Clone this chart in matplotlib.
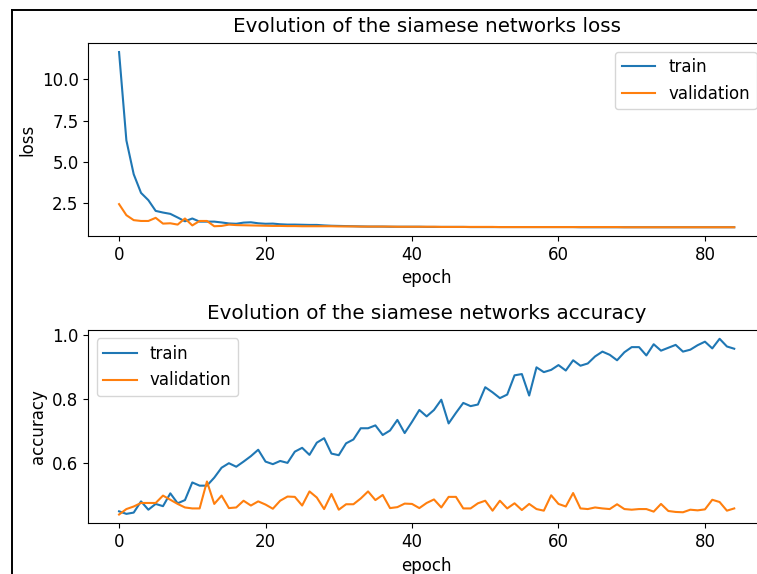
import matplotlib
matplotlib.use('Agg')
import matplotlib.pyplot as plt
from matplotlib.lines import Line2D

epochs = list(range(85))

loss_train = [11.65, 6.3, 4.25, 3.12, 2.68, 2.03, 1.93, 1.85, 1.63, 1.4,
              1.57, 1.38, 1.38, 1.38, 1.33, 1.27, 1.25, 1.32, 1.34, 1.28,
              1.25, 1.26, 1.22, 1.2, 1.2, 1.19, 1.18, 1.18, 1.15, 1.13,
              1.12, 1.11, 1.1, 1.09, 1.08, 1.08, 1.08, 1.07, 1.07, 1.07,
              1.07, 1.07, 1.06, 1.06, 1.06, 1.06, 1.06, 1.06, 1.05, 1.05,
              1.05, 1.05, 1.05, 1.05, 1.05, 1.05, 1.05, 1.05, 1.05, 1.05,
              1.05, 1.05, 1.05, 1.04, 1.04, 1.04, 1.04, 1.04, 1.04, 1.04,
              1.04, 1.04, 1.04, 1.04, 1.04, 1.04, 1.04, 1.04, 1.04, 1.04,
              1.04, 1.04, 1.04, 1.04, 1.04]
loss_val = [2.44, 1.77, 1.47, 1.42, 1.42, 1.61, 1.26, 1.28, 1.2, 1.57,
            1.15, 1.42, 1.42, 1.1, 1.12, 1.2, 1.17, 1.16, 1.15, 1.14,
            1.13, 1.12, 1.12, 1.11, 1.11, 1.1, 1.1, 1.1, 1.1, 1.1,
            1.09, 1.09, 1.09, 1.08, 1.08, 1.08, 1.08, 1.08, 1.07, 1.07,
            1.07, 1.07, 1.07, 1.07, 1.06, 1.06, 1.06, 1.06, 1.06, 1.06,
            1.06, 1.06, 1.05, 1.05, 1.05, 1.05, 1.05, 1.05, 1.05, 1.05,
            1.05, 1.05, 1.05, 1.05, 1.05, 1.05, 1.05, 1.05, 1.05, 1.04,
            1.04, 1.04, 1.04, 1.04, 1.04, 1.04, 1.04, 1.04, 1.04, 1.04,
            1.04, 1.04, 1.04, 1.04, 1.04]

acc_train = [0.45, 0.442, 0.446, 0.481, 0.455, 0.473, 0.466, 0.506, 0.475, 0.485,
             0.54, 0.53, 0.53, 0.555, 0.586, 0.6, 0.589, 0.605, 0.622, 0.642,
             0.605, 0.597, 0.607, 0.601, 0.636, 0.648, 0.626, 0.664, 0.678, 0.63,
             0.625, 0.662, 0.674, 0.709, 0.709, 0.718, 0.688, 0.702, 0.735, 0.694,
             0.729, 0.766, 0.746, 0.766, 0.798, 0.724, 0.757, 0.788, 0.778, 0.783,
             0.837, 0.821, 0.803, 0.814, 0.874, 0.878, 0.811, 0.899, 0.884, 0.891,
             0.906, 0.889, 0.921, 0.904, 0.911, 0.933, 0.948, 0.938, 0.921, 0.946,
             0.962, 0.962, 0.936, 0.971, 0.951, 0.96, 0.969, 0.948, 0.954, 0.968,
             0.979, 0.958, 0.988, 0.964, 0.957]
acc_val = [0.44, 0.457, 0.465, 0.476, 0.476, 0.476, 0.499, 0.486, 0.473, 0.462,
           0.459, 0.459, 0.543, 0.473, 0.499, 0.46, 0.462, 0.483, 0.468, 0.481,
           0.471, 0.458, 0.483, 0.496, 0.495, 0.468, 0.512, 0.493, 0.457, 0.504,
           0.455, 0.472, 0.472, 0.49, 0.512, 0.485, 0.501, 0.46, 0.463, 0.474,
           0.473, 0.46, 0.476, 0.487, 0.462, 0.495, 0.495, 0.459, 0.459, 0.475,
           0.483, 0.452, 0.483, 0.459, 0.475, 0.454, 0.473, 0.457, 0.452, 0.5,
           0.473, 0.465, 0.507, 0.459, 0.457, 0.462, 0.459, 0.457, 0.472, 0.457,
           0.455, 0.457, 0.457, 0.449, 0.473, 0.451, 0.448, 0.447, 0.455, 0.453,
           0.456, 0.486, 0.479, 0.452, 0.459]

W, H = 757, 574
fig = plt.figure(figsize=(W / 100, H / 100), dpi=100)


def box(x0, y0, x1, y1):
    return [x0 / W, 1 - y1 / H, (x1 - x0) / W, (y1 - y0) / H]


ax1 = fig.add_axes(box(88.3, 43.3, 765, 236))
ax2 = fig.add_axes(box(88.3, 330, 765, 523.3))

fs = 12
tfs = 14.3
ax1.plot(epochs, loss_train, label='train')
ax1.plot(epochs, loss_val, label='validation')
ax1.set_title('Evolution of the siamese networks loss', fontsize=tfs, pad=8)
ax1.set_xlabel('epoch', fontsize=fs)
ax1.set_ylabel('loss', fontsize=fs)
ax1.set_xticks([0, 20, 40, 60, 80])
ax1.set_yticks([2.5, 5.0, 7.5, 10.0])
ax1.tick_params(labelsize=fs)
ax1.legend(loc='upper right', fontsize=fs)

ax2.plot(epochs, acc_train, label='train')
ax2.plot(epochs, acc_val, label='validation')
ax2.set_title('Evolution of the siamese networks accuracy', fontsize=tfs, pad=8)
ax2.set_xlabel('epoch', fontsize=fs)
ax2.set_ylabel('accuracy', fontsize=fs)
ax2.set_xticks([0, 20, 40, 60, 80])
ax2.set_yticks([0.6, 0.8, 1.0])
ax2.tick_params(labelsize=fs)
ax2.legend(loc='upper left', fontsize=fs)

# frame around the screenshot
fig.add_artist(Line2D([12 / W, 12 / W], [0, 1 - 10 / H], color='black', lw=1.4))
fig.add_artist(Line2D([12 / W, 1], [1 - 10 / H, 1 - 10 / H], color='black', lw=1.4))

fig.savefig('out.png', dpi=100)
